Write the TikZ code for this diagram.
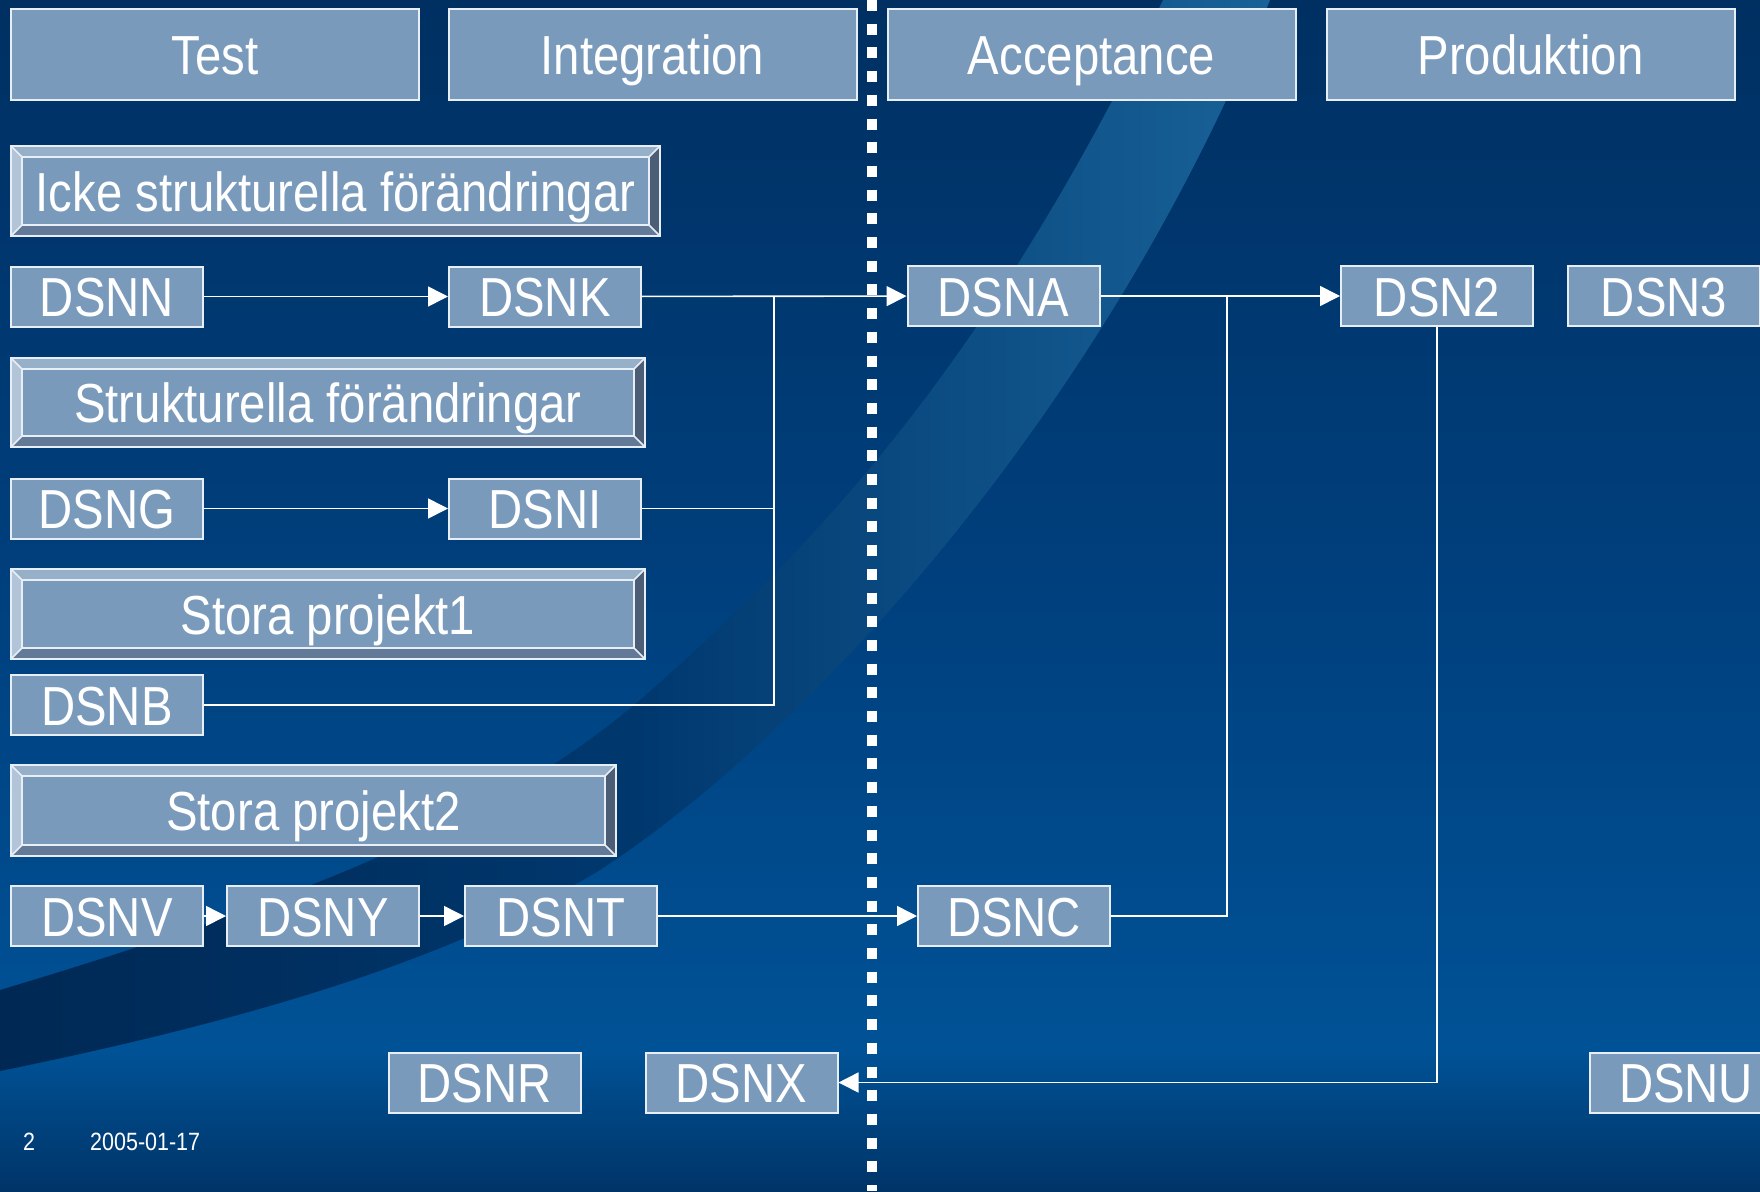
\documentclass[tikz,border=0pt]{standalone}
\usepackage{fontspec}
\setmainfont{Liberation Sans}[FakeStretch=0.86]
\usetikzlibrary{arrows.meta,calc}

\definecolor{boxfill}{RGB}{122,154,188}
\definecolor{bvtop}{RGB}{149,176,200}
\definecolor{bvleft}{RGB}{178,196,216}
\definecolor{bvbot}{RGB}{98,122,152}
\definecolor{bvright}{RGB}{75,94,118}
\definecolor{bgtop}{RGB}{0,48,98}
\definecolor{bgmid}{RGB}{0,64,126}
\definecolor{bglow}{RGB}{0,82,150}
\definecolor{bgbot}{RGB}{0,52,104}
\definecolor{banddark}{RGB}{0,40,84}
\definecolor{bandmid}{RGB}{0,56,110}
\definecolor{bandlight}{RGB}{24,98,152}
\definecolor{edgecol}{RGB}{232,238,246}

\newcommand{\bevdraw}[1]{%
  \fill[bvtop] (#1.north west) -- (#1.north east) -- ($(#1.north east)+(-11,11)$) -- ($(#1.north west)+(11,11)$) -- cycle;
  \fill[bvleft] (#1.north west) -- ($(#1.north west)+(11,11)$) -- ($(#1.south west)+(11,-11)$) -- (#1.south west) -- cycle;
  \fill[bvbot] (#1.south west) -- ($(#1.south west)+(11,-11)$) -- ($(#1.south east)+(-11,-11)$) -- (#1.south east) -- cycle;
  \fill[bvright] (#1.north east) -- (#1.south east) -- ($(#1.south east)+(-11,-11)$) -- ($(#1.north east)+(-11,11)$) -- cycle;
  \draw[bevline] (#1.north west) rectangle (#1.south east);
  \draw[bevline] ($(#1.north west)+(11,11)$) rectangle ($(#1.south east)+(-11,-11)$);
  \draw[bevline] (#1.north west) -- ++(11,11);
  \draw[bevline] (#1.north east) -- ++(-11,11);
  \draw[bevline] (#1.south west) -- ++(11,-11);
  \draw[bevline] (#1.south east) -- ++(-11,-11);
}

\begin{document}
\begin{tikzpicture}[x=1pt,y=-1pt,
  dsn/.style={draw=edgecol, line width=2pt, fill=boxfill, text=white,
    minimum width=192pt, minimum height=60pt, inner sep=0pt,
    text height=40pt, text depth=0pt, font=\fontsize{55}{55}\selectfont},
  hdr/.style={dsn, minimum width=408pt, minimum height=91pt},
  bev/.style={fill=boxfill, text=white, inner sep=0pt, text height=40pt, text depth=0pt,
    font=\fontsize{55}{55}\selectfont},
  bevline/.style={draw=edgecol, line width=1.6pt},
  conn/.style={draw=white, line width=1.6pt},
  arr/.style={conn, -{Triangle[length=20pt,width=20pt]}},
  foot/.style={text=white, inner sep=0pt, text height=18pt, text depth=0pt,
    font=\fontsize{25}{25}\selectfont},
]
\useasboundingbox (0,0) rectangle (1760,1191);
\clip (0,0) rectangle (1760,1191);

% background
\shade[top color=bgtop, bottom color=bgmid] (0,0) rectangle (1760,601);
\shade[top color=bgmid, bottom color=bglow] (0,600) rectangle (1760,1051);
\shade[top color=bglow, bottom color=bgbot] (0,1050) rectangle (1760,1191);

% curved band
\shade[left color=banddark, right color=bandlight, middle color=bandmid]
  (0,990) .. controls (300,900) and (500,820) .. (640,700)
  .. controls (800,560) and (980,380) .. (1163,0)
  -- (1270,0)
  .. controls (1100,420) and (800,740) .. (600,870)
  .. controls (450,960) and (250,1020) .. (0,1071) -- cycle;

% dotted separator
\coordinate (dtop) at (872,0);
\coordinate (dbot) at (872,1191);
\draw[white, line width=10pt, dash pattern=on 11pt off 12.7pt] (dtop) -- (dbot);

% headers
\node[hdr] (test) at (215,54.5) {Test};
\node[hdr] (integ) at (652.5,54.5) {Integration};
\node[hdr] (accept) at (1091.5,54.5) {Acceptance};
\node[hdr] (prod) at (1530.5,54.5) {Produktion};

% bevel boxes
\node[bev, minimum width=649pt, minimum height=90pt] (icke) at (335.5,191) {Icke strukturella förändringar};
\bevdraw{icke}
\node[bev, minimum width=634pt, minimum height=89pt] (strukt) at (328,402.5) {Strukturella förändringar};
\bevdraw{strukt}
\node[bev, minimum width=634pt, minimum height=90pt] (stora1) at (328,614) {Stora projekt1};
\bevdraw{stora1}
\node[bev, minimum width=605pt, minimum height=91pt] (stora2) at (313.5,810.5) {Stora projekt2};
\bevdraw{stora2}

% DSN boxes
\node[dsn] (dsnn) at (107,296.5) {DSNN};
\node[dsn] (dsnk) at (545,296.5) {DSNK};
\node[dsn] (dsna) at (1003.5,296) {DSNA};
\node[dsn] (dsn2) at (1437,296) {DSN2};
\node[dsn] (dsn3) at (1664,296) {DSN3};
\node[dsn] (dsng) at (107,508.5) {DSNG};
\node[dsn] (dsni) at (545,508.5) {DSNI};
\node[dsn] (dsnb) at (107,705) {DSNB};
\node[dsn] (dsnv) at (107,916) {DSNV};
\node[dsn] (dsny) at (323,916) {DSNY};
\node[dsn] (dsnt) at (561,916) {DSNT};
\node[dsn] (dsnc) at (1014,916) {DSNC};
\node[dsn] (dsnr) at (484.5,1082.5) {DSNR};
\node[dsn] (dsnx) at (741.5,1082.5) {DSNX};
\node[dsn] (dsnu) at (1686,1082.5) {DSNU};

% junctions
\coordinate (j1) at (774,296.5);
\coordinate (j2) at (1227,296);

% connectors
\draw[arr] (dsnn) -- (dsnk);
\draw[arr] (dsnk) -- (dsna);
\draw[arr] (dsng) -- (dsni);
\draw[conn] (dsni.east) -| (j1);
\draw[conn] (dsnb.east) -| (j1);
\draw[arr] (dsna) -- (dsn2);
\draw[conn] (dsnc.east) -| (j2);
\draw[arr] (dsnv) -- (dsny);
\draw[arr] (dsny) -- (dsnt);
\draw[arr] (dsnt) -- (dsnc);
\draw[arr] (dsn2.south) |- (dsnx.east);

% footer
\node[foot] (pagenum) at (29,1141) {2};
\node[foot, anchor=west] (date) at (90,1141) {2005-01-17};
\end{tikzpicture}
\end{document}
